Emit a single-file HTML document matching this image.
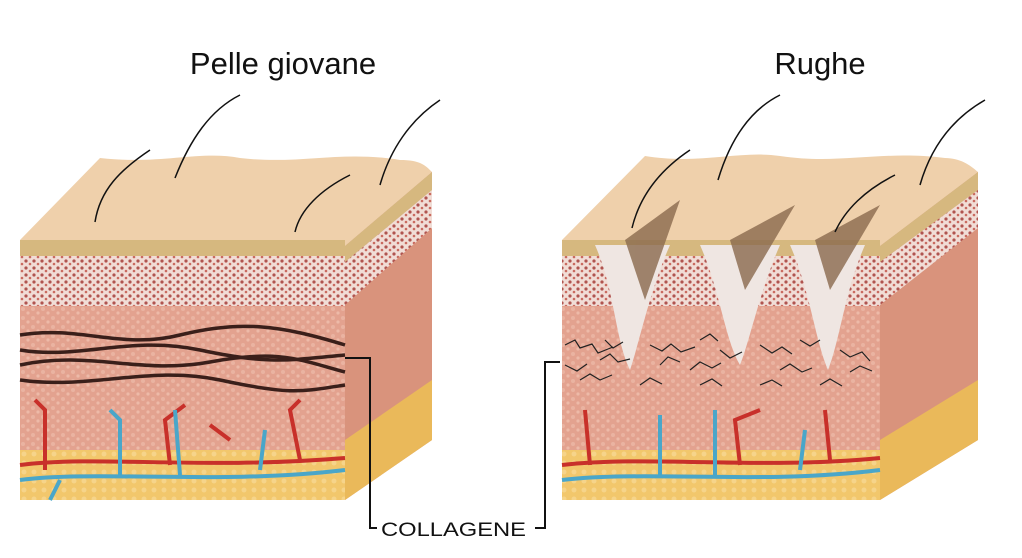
<!DOCTYPE html>
<html><head><meta charset="utf-8"><style>
html,body{margin:0;padding:0;background:#fff;}
svg{display:block}
text{font-family:"Liberation Sans",sans-serif}
</style></head><body>
<svg width="1022" height="558" viewBox="0 0 1022 558" xmlns="http://www.w3.org/2000/svg">
<defs>
<pattern id="dots" width="8" height="7" patternUnits="userSpaceOnUse">
<rect width="8" height="7" fill="#f1ddd6"/><circle cx="2" cy="2" r="1.6" fill="#b0544f"/><circle cx="6" cy="5" r="1.3" fill="#c96a5f"/></pattern>
<pattern id="derm" width="10" height="9" patternUnits="userSpaceOnUse">
<rect width="10" height="9" fill="#e3a28f"/><circle cx="3" cy="3" r="2" fill="#eab3a1"/><circle cx="8" cy="7" r="1.6" fill="#edbaa8"/></pattern>
<pattern id="fat" width="10" height="9" patternUnits="userSpaceOnUse">
<rect width="10" height="9" fill="#f2c76c"/><circle cx="4" cy="4" r="2.5" fill="#f6d48a"/></pattern>
</defs>
<text x="283" y="74" font-size="31" text-anchor="middle" fill="#111">Pelle giovane</text>
<text x="820" y="74" font-size="31" text-anchor="middle" fill="#111">Rughe</text>

<g>
<path d="M20,240 L345,246 L432,172 C425,165 420,160 400,160 C340,150 300,165 240,158 C200,150 160,165 100,158 Z" fill="#efd0ab"/>
<polygon points="345,246 432,172 432,440 345,500" fill="#d9937c"/>
<polygon points="345,246 432,172 432,190 345,262" fill="#d6b87f"/>
<polygon points="345,262 432,190 432,228 345,305" fill="url(#dots)"/>
<polygon points="345,440 432,380 432,440 345,500" fill="#eab95a"/>
<rect x="20" y="240" width="325" height="16" fill="#d6b87f"/>
<rect x="20" y="256" width="325" height="50" fill="url(#dots)"/>
<rect x="20" y="306" width="325" height="144" fill="url(#derm)"/>
<rect x="20" y="450" width="325" height="50" fill="url(#fat)"/>
<g fill="none" stroke="#3a1f1a" stroke-width="3.5">
<path d="M20,335 C80,325 120,350 180,335 S280,325 345,345"/>
<path d="M20,350 C80,360 130,335 200,350 S290,360 345,355"/>
<path d="M20,365 C90,350 140,375 210,362 S300,360 345,372"/>
<path d="M20,380 C90,390 150,365 220,380 S300,392 345,385"/>
</g>
<g fill="none" stroke="#c8302a" stroke-width="4">
<path d="M20,465 C100,455 200,470 345,458"/><path d="M45,470 L45,410 L35,400"/><path d="M170,465 L165,420 L185,405"/><path d="M300,460 L290,410 L300,400"/><path d="M230,440 L210,425"/>
</g>
<g fill="none" stroke="#4aa6c9" stroke-width="4">
<path d="M20,480 C100,470 220,485 345,470"/><path d="M120,475 L120,420 L110,410"/><path d="M180,475 L175,410"/><path d="M260,470 L265,430"/><path d="M60,480 L50,500"/>
</g>
<g fill="none" stroke="#111" stroke-width="1.5">
<path d="M95,222 C100,190 120,170 150,150"/><path d="M175,178 C190,140 210,110 240,95"/>
<path d="M295,232 C300,210 320,190 350,175"/><path d="M380,185 C390,150 410,120 440,100"/>
</g>
</g>

<g>
<path d="M562,240 L880,246 L978,172 C970,165 960,158 945,158 C880,150 840,165 780,156 C740,150 700,165 645,156 Z" fill="#efd0ab"/>
<polygon points="880,246 978,172 978,440 880,500" fill="#d9937c"/>
<polygon points="880,246 978,172 978,190 880,262" fill="#d6b87f"/>
<polygon points="880,262 978,190 978,228 880,305" fill="url(#dots)"/>
<polygon points="880,440 978,380 978,440 880,500" fill="#eab95a"/>
<rect x="562" y="240" width="318" height="16" fill="#d6b87f"/>
<rect x="562" y="256" width="318" height="50" fill="url(#dots)"/>
<rect x="562" y="306" width="318" height="144" fill="url(#derm)"/>
<rect x="562" y="450" width="318" height="50" fill="url(#fat)"/>
<g fill="#efe6e2">
<path d="M595,245 C615,290 615,340 630,370 C640,340 650,290 670,245 Z"/>
<path d="M700,245 C720,290 725,340 740,365 C750,340 760,290 780,245 Z"/>
<path d="M790,245 C810,290 815,340 828,370 C840,340 845,290 865,245 Z"/>
</g>
<g fill="#8a6a4e" opacity="0.8">
<path d="M625,240 L680,200 L645,300 Z"/><path d="M730,240 L795,205 L745,290 Z"/><path d="M815,240 L880,205 L830,290 Z"/>
</g>
<g stroke="#222" stroke-width="1.2" fill="none">
<path d="M565,345 l10,-5 l5,8 l12,-4 l6,9 l15,-6 M600,360 l10,-6 l8,8 l12,-3 M650,345 l12,6 l9,-7 l10,8 l14,-5 M690,370 l10,-8 l12,6 l9,-5 M760,345 l12,8 l10,-6 l10,7 M780,370 l10,-6 l12,8 l10,-4 M840,350 l10,7 l12,-5 l8,9 M565,365 l12,6 l10,-7 M660,365 l8,-8 l12,5 M720,350 l10,8 l12,-6 M850,372 l10,-6 l12,5 M580,380 l10,-6 l10,6 l12,-5 M640,385 l10,-7 l12,6 M700,385 l12,-6 l10,7 M760,385 l12,-5 l10,6 M820,385 l10,-6 l12,7 M605,340 l8,8 l10,-6 M700,340 l10,-6 l8,7 M800,340 l10,6 l10,-6"/>
</g>
<g fill="none" stroke="#c8302a" stroke-width="4">
<path d="M562,465 C650,455 760,470 880,458"/><path d="M590,465 L585,410"/><path d="M740,465 L735,420 L760,410"/><path d="M830,460 L825,410"/>
</g>
<g fill="none" stroke="#4aa6c9" stroke-width="4">
<path d="M562,480 C650,470 760,485 880,470"/><path d="M660,475 L660,415"/><path d="M715,475 L715,410"/><path d="M800,470 L805,430"/>
</g>
<g fill="none" stroke="#111" stroke-width="1.5">
<path d="M632,228 C640,195 660,170 690,150"/><path d="M718,180 C730,140 750,110 780,95"/>
<path d="M835,232 C845,210 865,190 895,175"/><path d="M920,185 C930,150 950,120 985,100"/>
</g>
</g>

<g fill="none" stroke="#111" stroke-width="2">
<path d="M345,358 H370 V528 H377"/><path d="M560,362 H545 V528 H535"/>
</g>
<text x="381" y="536" font-size="19" fill="#111" textLength="145" lengthAdjust="spacingAndGlyphs">COLLAGENE</text>
</svg>
</body></html>
